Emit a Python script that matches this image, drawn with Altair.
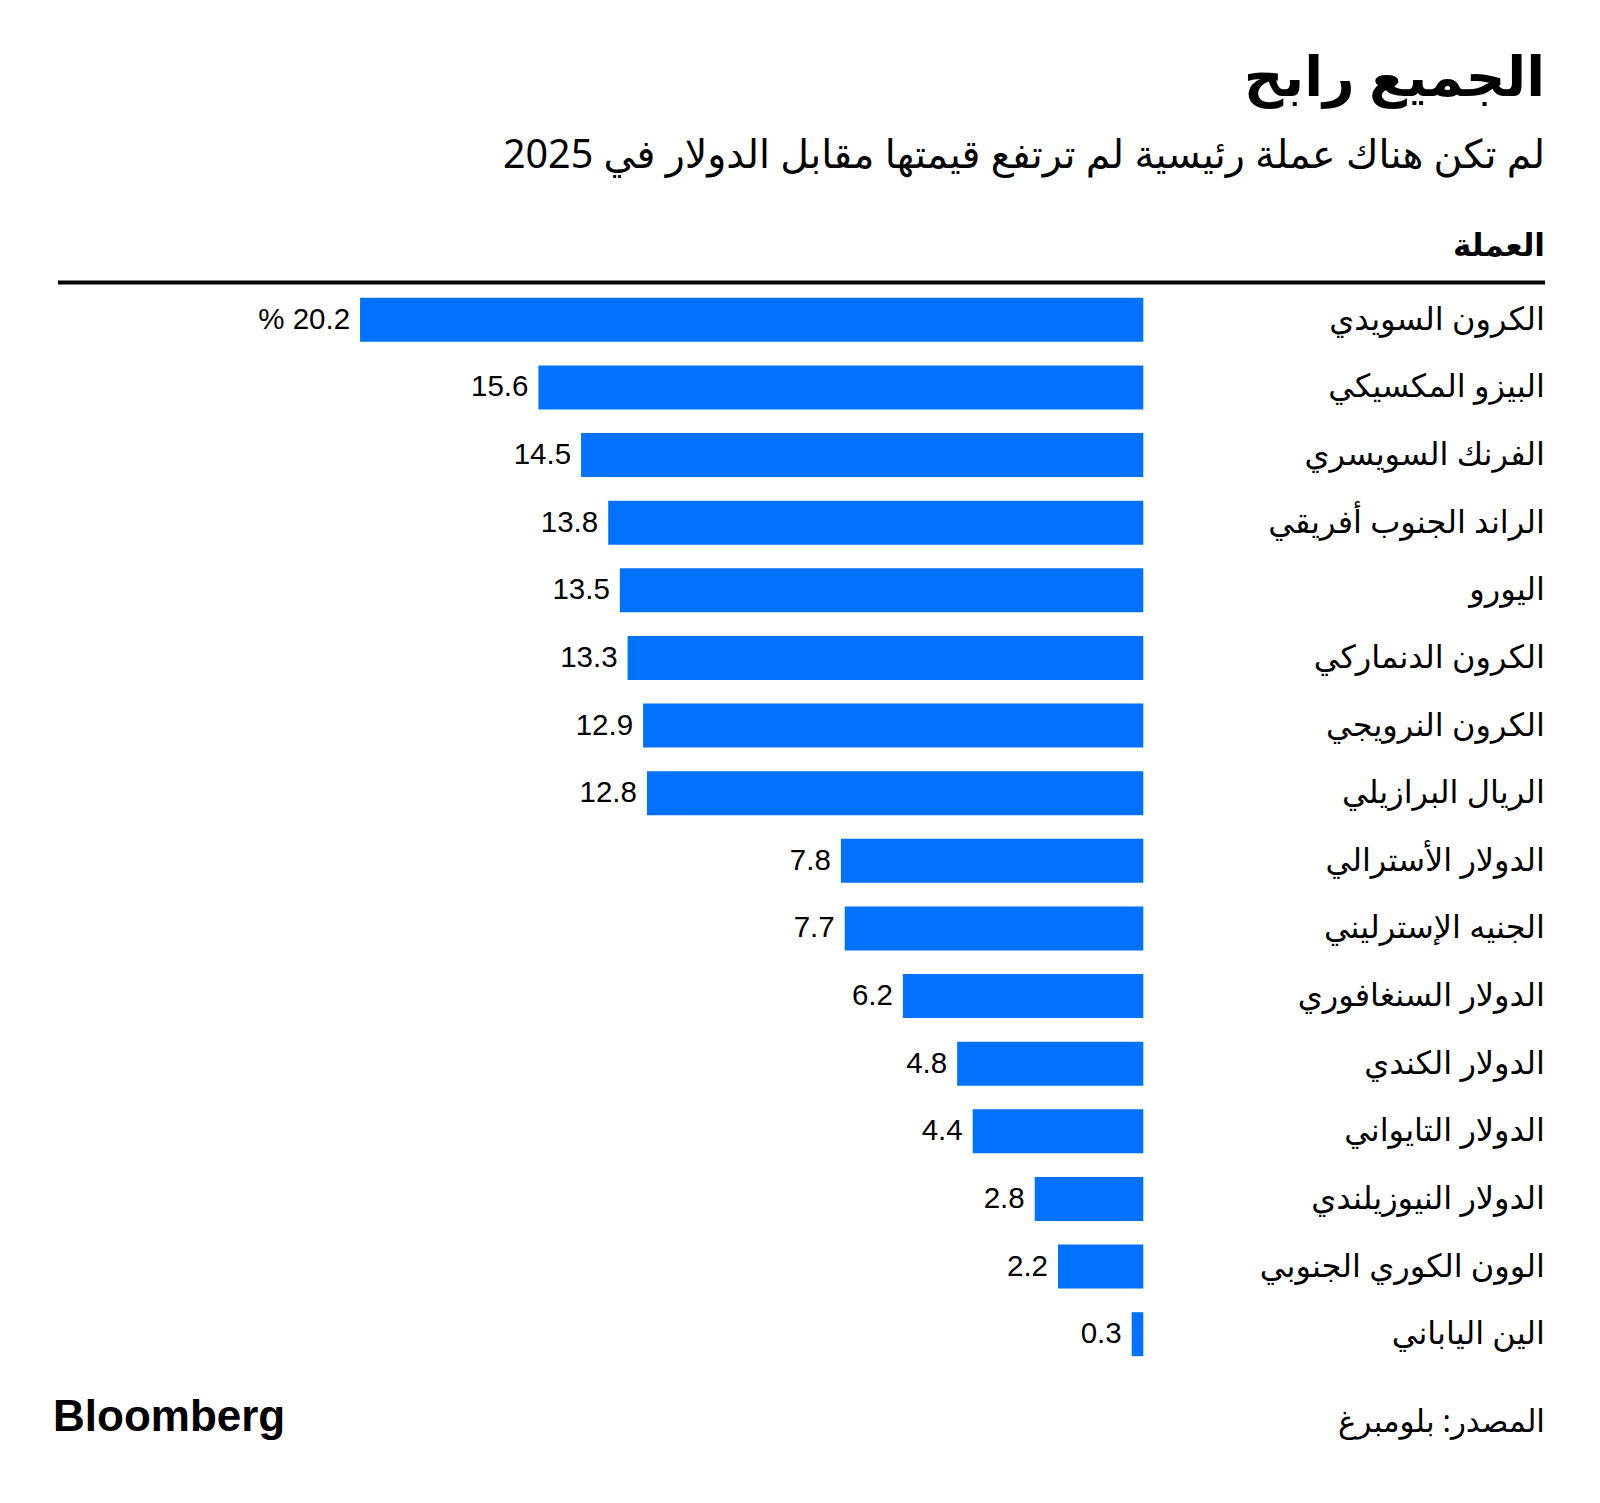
import altair as alt
import pandas as pd

currencies = [
    "الكرون السويدي",
    "البيزو المكسيكي",
    "الفرنك السويسري",
    "الراند الجنوب أفريقي",
    "اليورو",
    "الكرون الدنماركي",
    "الكرون النرويجي",
    "الريال البرازيلي",
    "الدولار الأسترالي",
    "الجنيه الإسترليني",
    "الدولار السنغافوري",
    "الدولار الكندي",
    "الدولار التايواني",
    "الدولار النيوزيلندي",
    "الوون الكوري الجنوبي",
    "الين الياباني",
]
values = [20.2, 15.6, 14.5, 13.8, 13.5, 13.3, 12.9, 12.8, 7.8, 7.7, 6.2, 4.8, 4.4, 2.8, 2.2, 0.3]

title_text = "الجميع رابح"
subtitle_text = "لم تكن هناك عملة رئيسية لم ترتفع قيمتها مقابل الدولار في 2025"
header_text = "العملة"
source_text = "المصدر: بلومبرغ"
brand_text = "Bloomberg"

labels = [("% " if i == 0 else "") + f"{v:.1f}" for i, v in enumerate(values)]
df = pd.DataFrame({"currency": currencies, "value": values, "label": labels})

W = 1487
H = 1082
AR_FONT = "Noto Sans, DejaVu Sans"
NUM_FONT = "Liberation Sans, Arial"
BLUE = "#0072ff"

y_enc = alt.Y("currency:N", sort=currencies, axis=None,
              scale=alt.Scale(paddingInner=0.35, paddingOuter=0.175))
x_scale = alt.Scale(domain=[-10.36, 27.99], reverse=True, nice=False, zero=False)

base = alt.Chart(df)

bars = base.mark_bar(color=BLUE).encode(
    y=y_enc,
    x=alt.X("value:Q", scale=x_scale, axis=None),
    x2=alt.datum(0),
)

vals = base.mark_text(align="right", baseline="middle", dx=-10, fontSize=29.5,
                      font=NUM_FONT, color="#000000").encode(
    y=y_enc,
    x=alt.X("value:Q", scale=x_scale, axis=None),
    text="label:N",
)

names = base.mark_text(align="right", baseline="middle", fontSize=32,
                       font=AR_FONT, color="#000000").encode(
    y=y_enc,
    x=alt.value(W),
    text="currency:N",
)


def note(txt, x, y, size, weight="normal", align="right", font=AR_FONT):
    return alt.Chart(pd.DataFrame({"t": [txt]})).mark_text(
        align=align, baseline="alphabetic", fontSize=size, fontWeight=weight,
        font=font, color="#000000"
    ).encode(text="t:N", x=alt.value(x), y=alt.value(y))


rule = alt.Chart(pd.DataFrame({"a": [0]})).mark_rule(color="#000000", strokeWidth=4).encode(
    x=alt.value(0), x2=alt.value(W), y=alt.value(-3.5)
)

chart = alt.layer(
    bars, vals, names, rule,
    note(title_text, W, -190, 55, "bold"),
    note(subtitle_text, W, -118, 39.5),
    note(header_text, W, -30, 31, "bold"),
    note(source_text, W, 1146, 31),
    note(brand_text, -5, 1145, 44, "bold", "left", NUM_FONT),
).properties(
    width=W, height=H,
    background="#ffffff",
    autosize=alt.AutoSizeParams(type="none"),
    padding={"left": 50, "top": 278, "right": 30, "bottom": 85},
).configure_view(strokeWidth=0)

chart.save("out.html", embed_options={"renderer": "svg", "actions": False})
